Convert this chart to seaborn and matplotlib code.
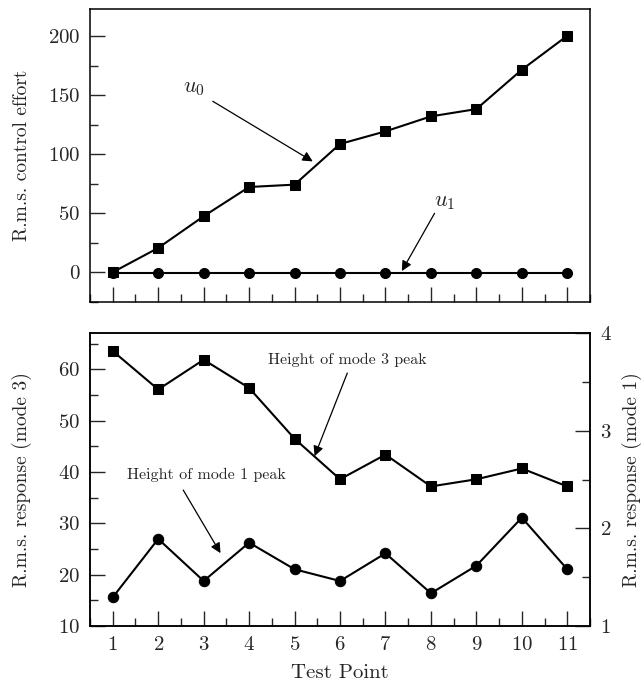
import numpy as np
import pandas as pd
import seaborn as sns
from matplotlib import pyplot as plt
from matplotlib.ticker import MultipleLocator

test_points = list(range(1, 12))
u0_effort = [0, 20.6, 47.5, 72.3, 74.3, 108.8, 119.5, 132.2, 138.4, 171.8, 200.6]
u1_effort = [-1, -1, -1, -1, -1, -1, -1, -1, -1, -1, -1]
mode3_peak = [63.6, 56.1, 61.9, 56.4, 46.5, 38.6, 43.4, 37.2, 38.6, 40.7, 37.2]
mode1_peak = [1.294, 1.892, 1.461, 1.854, 1.581, 1.461, 1.745, 1.335, 1.618, 2.110, 1.581]

sns.set_style('ticks')
plt.rcParams['font.family'] = ['cmr10', 'DejaVu Serif']
plt.rcParams['mathtext.fontset'] = 'cm'
plt.rcParams['axes.formatter.use_mathtext'] = True
plt.rcParams['axes.linewidth'] = 1.1
plt.rcParams['axes.edgecolor'] = 'black'

df_top = pd.DataFrame({'tp': test_points, 'u0': u0_effort, 'u1': u1_effort})
df_bot = pd.DataFrame({'tp': test_points, 'm3': mode3_peak, 'm1': mode1_peak})

fig = plt.figure(figsize=(6.44, 6.86), dpi=100)
ax_top = fig.add_axes([0.1398, 0.5602, 0.7764, 0.4262])
ax_bot = fig.add_axes([0.1398, 0.0875, 0.7764, 0.4267])
ax_r = ax_bot.twinx()

line_kw = dict(color='black', linewidth=1.5, markeredgecolor='black', markerfacecolor='black')
sns.lineplot(data=df_top, x='tp', y='u0', marker='s', markersize=6.8, ax=ax_top, **line_kw)
sns.lineplot(data=df_top, x='tp', y='u1', marker='o', markersize=7.2, ax=ax_top, **line_kw)
sns.lineplot(data=df_bot, x='tp', y='m3', marker='s', markersize=6.8, ax=ax_bot, **line_kw)
sns.lineplot(data=df_bot, x='tp', y='m1', marker='o', markersize=7.5, ax=ax_r, **line_kw)

TICK_FS = 15
LABEL_FS = 14

for ax in (ax_top, ax_bot):
    ax.set_xlim(0.5, 11.5)
    ax.xaxis.set_major_locator(MultipleLocator(1))
    ax.xaxis.set_minor_locator(MultipleLocator(0.5))
    ax.yaxis.set_minor_locator(MultipleLocator(25 if ax is ax_top else 5))
    ax.tick_params(which='major', direction='in', length=11, width=1.0, labelsize=TICK_FS, pad=7)
    ax.tick_params(which='minor', direction='in', length=5.5, width=1.0)

ax_top.set_ylim(-25, 223)
ax_top.yaxis.set_major_locator(MultipleLocator(50))
ax_top.tick_params(axis='x', which='both', labelbottom=False)
ax_top.set_xlabel('')
ax_top.set_ylabel('R.m.s. control effort', fontsize=LABEL_FS, va='center')
ax_top.yaxis.set_label_coords(-0.136, 0.5)

ax_bot.set_ylim(10, 67.06)
ax_bot.yaxis.set_major_locator(MultipleLocator(10))
ax_bot.set_xlabel('Test Point', fontsize=15, va='center')
ax_bot.xaxis.set_label_coords(0.5, -0.16)
ax_bot.set_ylabel('R.m.s. response (mode 3)', fontsize=LABEL_FS, va='center')
ax_bot.yaxis.set_label_coords(-0.136, 0.5)

ax_r.set_ylim(1, 4)
ax_r.yaxis.set_major_locator(MultipleLocator(1))
ax_r.yaxis.set_minor_locator(MultipleLocator(0.5))
ax_r.tick_params(which='major', direction='in', length=11, width=1.0, labelsize=TICK_FS, pad=7)
ax_r.tick_params(which='minor', direction='in', length=5.5, width=1.0)
ax_r.set_ylabel('R.m.s. response (mode 1)', fontsize=LABEL_FS, va='center', rotation=90)
ax_r.yaxis.set_label_coords(1.084, 0.5)

arrow = dict(arrowstyle='-|>', color='black', lw=0.9, mutation_scale=15, shrinkA=0, shrinkB=0)
ax_top.text(2.78, 156, r'$u_0$', fontsize=16, ha='center', va='center')
ax_top.annotate('', xy=(5.4, 94), xytext=(3.2, 145), arrowprops=arrow)
ax_top.text(8.3, 59, r'$u_1$', fontsize=16, ha='center', va='center')
ax_top.annotate('', xy=(7.36, 1), xytext=(8.08, 50), arrowprops=arrow)

ax_bot.text(6.16, 61.8, 'Height of mode 3 peak', fontsize=11.5, ha='center', va='center')
ax_bot.annotate('', xy=(5.44, 43.1), xytext=(6.16, 59.3), arrowprops=arrow)
ax_bot.text(3.05, 39.4, 'Height of mode 1 peak', fontsize=11.5, ha='center', va='center')
ax_bot.annotate('', xy=(3.37, 24.2), xytext=(2.55, 36.5), arrowprops=arrow)

fig.savefig('out.png', dpi=100)
